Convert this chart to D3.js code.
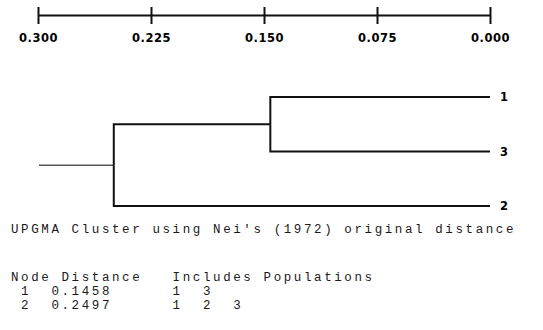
<!DOCTYPE html>
<html>
<head>
<meta charset="utf-8">
<script src="https://cdn.jsdelivr.net/npm/d3@7"></script>
<style>
  body { margin: 0; background: #fff; }
  .axis text, .leaf { font-family: "DejaVu Sans", sans-serif; font-weight: bold; font-size: 11.5px; fill: #000; }
  .mono { font-family: "Liberation Mono", monospace; font-size: 12.5px; fill: #1a1a1a; letter-spacing: 2.6px; white-space: pre; }
</style>
</head>
<body>
<script>
// scale ticks (distance)
var tickValues = [0.300, 0.225, 0.150, 0.075, 0.000];

// UPGMA clusters: node id, merge distance, populations included
var nodeIds = [1, 2];
var nodeDistances = [0.1458, 0.2497];
var nodeIncludes = [[1, 3], [1, 2, 3]];

// leaf order as drawn, top to bottom
var leafNames = ["1", "3", "2"];

var title = "UPGMA Cluster using Nei's (1972) original distance";
var headers = ["Node", "Distance", "Includes Populations"];

var width = 543, height = 330;

var svg = d3.select('body')
    .append('svg')
    .attr('width', width)
    .attr('height', height);

var x = d3.scaleLinear()
    .domain([0.3, 0])
    .range([38, 490]);

var yLeaf = d3.scalePoint()
    .domain(leafNames)
    .range([97, 206]);

// top scale bar
var axis = d3.axisBottom(x)
    .tickValues(tickValues)
    .tickSizeOuter(0)
    .tickFormat(d3.format(".3f"));

var ax = svg.append('g')
    .attr('class', 'axis')
    .attr('transform', 'translate(0,15)')
    .call(axis);

ax.select('.domain').attr('stroke', '#111').attr('stroke-width', 2);
ax.selectAll('.tick line')
    .attr('y1', -8).attr('y2', 9)
    .attr('stroke', '#111').attr('stroke-width', 2);
ax.selectAll('.tick text')
    .attr('dy', null)
    .attr('y', 27)
    .style('letter-spacing', '0.5px');

// tree: root = node 2 (1 2 3), child node 1 (1 3) + leaf 2
var treeData = {
    name: "n" + nodeIds[1], dist: nodeDistances[1],
    children: [
        { name: "n" + nodeIds[0], dist: nodeDistances[0],
          children: [ { name: leafNames[0], dist: 0 }, { name: leafNames[1], dist: 0 } ] },
        { name: leafNames[2], dist: 0 }
    ]
};

var root = d3.hierarchy(treeData);
// leaves from the point scale, inner nodes at the middle of their children
root.eachAfter(function (d) {
    d.y = d.children ? d3.mean(d.children, function (c) { return c.y; }) : yLeaf(d.data.name);
});

function px(d) { return x(d.data.dist); }

var tree = svg.append('g');

// stem from the root
tree.append('line')
    .attr('x1', x(0.3) + 1).attr('x2', px(root))
    .attr('y1', root.y).attr('y2', root.y)
    .attr('stroke', '#555')
    .attr('stroke-width', 1.5);

tree.selectAll('path.link')
    .data(root.links())
    .enter().append('path')
    .attr('class', 'link')
    .attr('fill', 'none')
    .attr('stroke', '#111')
    .attr('stroke-width', 2)
    .attr('d', function (l) {
        return 'M' + px(l.source) + ',' + l.source.y +
               'V' + l.target.y + 'H' + px(l.target);
    });

tree.selectAll('text.leaf')
    .data(root.leaves())
    .enter().append('text')
    .attr('class', 'leaf')
    .attr('x', function (d) { return px(d) + 10; })
    .attr('y', function (d) { return d.y + 4; })
    .text(function (d) { return d.data.name; });

// text report below
var rows = nodeIds.map(function (id, i) {
    return " " + id + "  " + nodeDistances[i].toFixed(4) + "      " + nodeIncludes[i].join("  ");
});
var lines = [
    { t: title, y: 233 },
    { t: headers[0] + " " + headers[1] + "   " + headers[2], y: 281 },
    { t: rows[0], y: 295 },
    { t: rows[1], y: 309 }
];

svg.selectAll('text.mono')
    .data(lines)
    .enter().append('text')
    .attr('class', 'mono')
    .attr('x', 11)
    .attr('y', function (d) { return d.y; })
    .text(function (d) { return d.t; });
</script>
</body>
</html>
